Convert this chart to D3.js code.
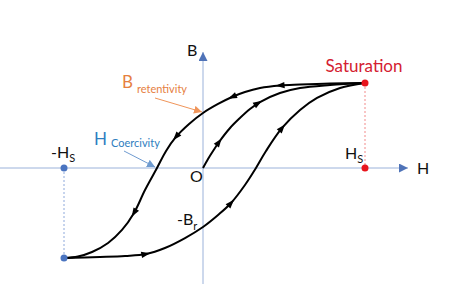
<!DOCTYPE html>
<html>
<head>
<meta charset="utf-8">
<script src="https://cdn.jsdelivr.net/npm/d3@7"></script>
<style>
	body { margin: 0; background: #fff; }
	text { font-family: Lato, "Open Sans", sans-serif; }
</style>
</head>
<body>
<script>
// Hysteresis loop, H in units of Hs, B in units of Bs
var upperH = [1.000, 0.784, 0.599, 0.475, 0.352, 0.259, 0.179, 0.093, 0, -0.086, -0.167, -0.228, -0.284, -0.358, -0.426, -0.500, -0.586, -0.685, -0.772, -0.858];
var upperB = [1.000, 0.994, 0.982, 0.971, 0.941, 0.894, 0.835, 0.753, 0.647, 0.518, 0.365, 0.200, 0, -0.259, -0.529, -0.729, -0.882, -0.988, -1.041, -1.059];

var lowerH = [-0.858, -0.636, -0.481, -0.352, -0.235, -0.111, 0, 0.093, 0.173, 0.259, 0.327, 0.389, 0.488, 0.599, 0.704, 0.846, 1.000];
var lowerB = [-1.059, -1.047, -1.035, -1.012, -0.941, -0.824, -0.694, -0.553, -0.412, -0.200, 0, 0.200, 0.471, 0.682, 0.824, 0.941, 1.000];

var initH = [0, 0.031, 0.062, 0.099, 0.167, 0.228, 0.290, 0.352, 0.475, 0.599, 0.784, 1.000];
var initB = [0, 0.106, 0.200, 0.306, 0.471, 0.588, 0.694, 0.776, 0.882, 0.941, 0.976, 1.000];

// where the direction arrows sit on each branch (H value)
var upperArrows = [0.475, 0.179, -0.167, -0.426];
var lowerArrows = [-0.352, 0.173, 0.488];
var initArrows = [0.099, 0.340];

// key points
var satH = 1.000, satB = 1.000;
var negSatH = -0.858, negSatB = -1.059;
var axisH = [-1.253, 1.265];
var axisB = [1.365, -1.365];

var width = 452, height = 303;

var xScale = d3.scaleLinear().domain([0, 1]).range([203, 365]);
var yScale = d3.scaleLinear().domain([0, 1]).range([168, 83]);

var svg = d3.select("body").append("svg")
	.attr("width", width)
	.attr("height", height);

var defs = svg.append("defs");
function addMarker(id, color, size) {
	defs.append("marker")
		.attr("id", id)
		.attr("viewBox", "0 0 10 10")
		.attr("refX", 10).attr("refY", 5)
		.attr("markerWidth", size).attr("markerHeight", size)
		.attr("markerUnits", "userSpaceOnUse")
		.attr("orient", "auto")
		.append("path")
		.attr("d", "M0,0 L10,5 L0,10 z")
		.attr("fill", color);
}
addMarker("axisArrow", "#4f73b8", 9);
addMarker("orangeArrow", "#f0955a", 8);
addMarker("blueArrow", "#6f9bd0", 8);

// axes
svg.append("line")
	.attr("x1", xScale(axisH[0])).attr("x2", xScale(axisH[1]))
	.attr("y1", yScale(0)).attr("y2", yScale(0))
	.attr("stroke", "#9bb2da").attr("stroke-width", 1)
	.attr("marker-end", "url(#axisArrow)");
svg.append("line")
	.attr("x1", xScale(0)).attr("x2", xScale(0))
	.attr("y1", yScale(axisB[1])).attr("y2", yScale(axisB[0]))
	.attr("stroke", "#9bb2da").attr("stroke-width", 1)
	.attr("marker-end", "url(#axisArrow)");

// dotted guides
svg.append("line")
	.attr("x1", xScale(satH)).attr("x2", xScale(satH))
	.attr("y1", yScale(satB)).attr("y2", yScale(0))
	.attr("stroke", "#f28b8b").attr("stroke-width", 1)
	.attr("stroke-dasharray", "2,2");
svg.append("line")
	.attr("x1", xScale(negSatH)).attr("x2", xScale(negSatH))
	.attr("y1", yScale(0)).attr("y2", yScale(negSatB))
	.attr("stroke", "#8ea9db").attr("stroke-width", 1)
	.attr("stroke-dasharray", "2,2");

// curves
var line = d3.line()
	.x(function(d) { return xScale(d[0]); })
	.y(function(d) { return yScale(d[1]); })
	.curve(d3.curveCatmullRom.alpha(0.5));

function drawBranch(hs, bs, arrows) {
	var pts = d3.zip(hs, bs);
	var path = svg.append("path")
		.attr("d", line(pts))
		.attr("fill", "none")
		.attr("stroke", "#000")
		.attr("stroke-width", 2);
	var node = path.node();
	var total = node.getTotalLength();
	arrows.forEach(function(h) {
		var px = xScale(h);
		// find the length where the path passes this x
		var best = 0, bestDist = Infinity;
		for (var l = 0; l <= total; l += 0.5) {
			var p = node.getPointAtLength(l);
			var dist = Math.abs(p.x - px);
			if (dist < bestDist) { bestDist = dist; best = l; }
		}
		var a = node.getPointAtLength(Math.max(0, best - 1));
		var b = node.getPointAtLength(Math.min(total, best + 1));
		var ang = Math.atan2(b.y - a.y, b.x - a.x) * 180 / Math.PI;
		var c = node.getPointAtLength(best);
		svg.append("path")
			.attr("d", "M4.5,0 L-4.5,-3.2 L-4.5,3.2 z")
			.attr("fill", "#000")
			.attr("transform", "translate(" + c.x + "," + c.y + ") rotate(" + ang + ")");
	});
}
drawBranch(upperH, upperB, upperArrows);
drawBranch(lowerH, lowerB, lowerArrows);
drawBranch(initH, initB, initArrows);

// annotation arrows
svg.append("line")
	.attr("x1", 155).attr("y1", 98)
	.attr("x2", 202).attr("y2", 112)
	.attr("stroke", "#f0955a").attr("stroke-width", 1)
	.attr("marker-end", "url(#orangeArrow)");
svg.append("line")
	.attr("x1", 124).attr("y1", 151)
	.attr("x2", 155).attr("y2", 167)
	.attr("stroke", "#6f9bd0").attr("stroke-width", 1)
	.attr("marker-end", "url(#blueArrow)");

// points
svg.append("circle").attr("cx", xScale(satH)).attr("cy", yScale(satB)).attr("r", 3.5).attr("fill", "#e8141c");
svg.append("circle").attr("cx", xScale(satH)).attr("cy", yScale(0)).attr("r", 3.5).attr("fill", "#e8141c");
svg.append("circle").attr("cx", xScale(negSatH)).attr("cy", yScale(0)).attr("r", 3.5).attr("fill", "#4a74c0");
svg.append("circle").attr("cx", xScale(negSatH)).attr("cy", yScale(negSatB)).attr("r", 3.5).attr("fill", "#4a74c0");

// labels
function label(x, y, parts, color) {
	var t = svg.append("text").attr("x", x).attr("y", y).attr("fill", color);
	parts.forEach(function(p) {
		t.append("tspan")
			.attr("font-size", p.size)
			.attr("dy", p.dy || 0)
			.attr("dx", p.dx || 0)
			.text(p.text);
	});
	return t;
}

svg.append("text")
	.attr("x", 364).attr("y", 72)
	.attr("text-anchor", "middle")
	.attr("font-size", 17)
	.attr("fill", "#d42030")
	.text("Saturation");

label(187, 56, [{text: "B", size: 16}], "#111");
label(417, 174, [{text: "H", size: 16}], "#111");
label(190, 182, [{text: "O", size: 16}], "#111");
label(177, 225, [{text: "-B", size: 16}, {text: "r", size: 11, dy: 5}], "#111");
label(51, 158, [{text: "-H", size: 16}, {text: "S", size: 11, dy: 4}], "#111");
label(345, 159, [{text: "H", size: 16}, {text: "S", size: 11, dy: 4}], "#111");
label(122, 88, [{text: "B", size: 17}, {text: "retentivity", size: 11, dy: 5, dx: 4}], "#e6803f");
label(94, 145, [{text: "H", size: 17}, {text: "Coercivity", size: 11, dy: 2, dx: 4}], "#2f7ec0");
</script>
</body>
</html>
